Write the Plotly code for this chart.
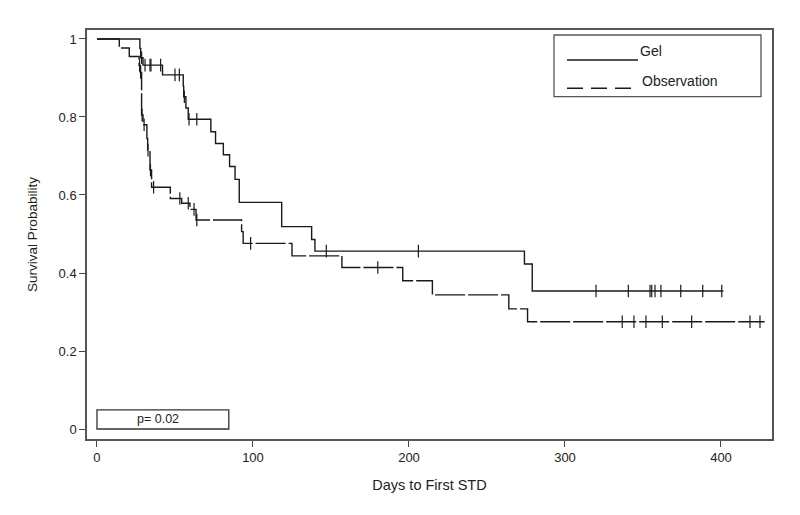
import plotly.graph_objects as go
import numpy as np

# ---- Data ----
gel_times = [0, 27.5, 28.0, 29.5, 42.0, 55.3, 55.6, 57.0, 58.5, 73.0, 76.0, 81.0, 85.0, 88.5, 91.2, 118.4, 137.6, 139.7, 274.0, 279.0, 401.5]
gel_surv = [1.0, 0.976, 0.952, 0.933, 0.908, 0.879, 0.852, 0.823, 0.794, 0.762, 0.732, 0.703, 0.673, 0.640, 0.581, 0.519, 0.486, 0.456, 0.423, 0.354, 0.354]
gel_censor = [28.6, 30.8, 34.0, 34.6, 40.8, 50.0, 52.8, 56.0, 59.0, 64.0, 147.0, 206.0,
              319.9, 340.6, 354.5, 355.6, 357.7, 361.5, 374.2, 388.3, 400.5]

obs_times = [0, 14.3, 20.7, 27.0, 27.8, 28.6, 29.5, 32.0, 32.5, 34.0, 35.0, 47.0, 54.3, 59.6, 63.5, 92.7, 93.7, 125.0, 157.0, 196.0, 215.0, 264.0, 276.0, 428.0]
obs_surv = [1.0, 0.977, 0.955, 0.932, 0.914, 0.805, 0.780, 0.745, 0.715, 0.664, 0.620, 0.591, 0.579, 0.563, 0.536, 0.506, 0.476, 0.444, 0.414, 0.380, 0.344, 0.308, 0.275, 0.275]
obs_censor = [27.3, 28.0, 28.9, 30.2, 32.7, 34.3, 36.3, 53.1, 58.5, 62.2, 64.0, 98.5, 180.0,
              336.7, 344.2, 351.9, 362.4, 381.2, 418.6, 425.0]

x_ticks = [0, 100, 200, 300, 400]
y_ticks = [0, 0.2, 0.4, 0.6, 0.8, 1.0]
y_tick_labels = ["0", "0.2", "0.4", "0.6", "0.8", "1"]
group_names = ["Gel", "Observation"]
p_text = "p= 0.02"


def step_value(times, surv, t):
    idx = np.searchsorted(np.array(times), t, side="right") - 1
    return surv[max(idx, 0)]


fig = go.Figure()
LINE = "#1a1a1a"

fig.add_trace(go.Scatter(x=gel_times, y=gel_surv, mode="lines", line=dict(shape="hv", color=LINE, width=1.4),
                         name=group_names[0], showlegend=False, hoverinfo="skip"))
fig.add_trace(go.Scatter(x=obs_times, y=obs_surv, mode="lines",
                         line=dict(shape="hv", color=LINE, width=1.4, dash="30px,3px"),
                         name=group_names[1], showlegend=False, hoverinfo="skip"))
fig.add_trace(go.Scatter(x=gel_censor, y=[step_value(gel_times, gel_surv, t) for t in gel_censor],
                         mode="markers", marker=dict(symbol="line-ns", size=9, line=dict(color=LINE, width=1.2)),
                         showlegend=False, hoverinfo="skip"))
fig.add_trace(go.Scatter(x=obs_censor, y=[step_value(obs_times, obs_surv, t) for t in obs_censor],
                         mode="markers", marker=dict(symbol="line-ns", size=9, line=dict(color=LINE, width=1.2)),
                         showlegend=False, hoverinfo="skip"))

# page body has an 8px margin; target plot area on screen: x 87..772, y 30..439
OFF = 8
FW, FH = 800 - OFF, 515 - OFF
L, R, T, B = 87 - OFF, 772 - OFF, 30 - OFF, 439 - OFF
W, H = R - L, B - T
def px(x):
    return (x - OFF - L) / W
def py(y):
    return (B - (y - OFF)) / H

shapes = []
# legend box
shapes.append(dict(type="rect", xref="paper", yref="paper", x0=px(554), x1=px(761), y0=py(96.7), y1=py(35),
                   line=dict(color="#555555", width=1.3)))
shapes.append(dict(type="line", xref="paper", yref="paper", x0=px(567), x1=px(638), y0=py(60), y1=py(60),
                   line=dict(color=LINE, width=1.4)))
shapes.append(dict(type="line", xref="paper", yref="paper", x0=px(567), x1=px(631), y0=py(88.3), y1=py(88.3),
                   line=dict(color=LINE, width=1.4, dash="16px,8px")))
# p-value box
shapes.append(dict(type="rect", xref="x", yref="y", x0=0, x1=84.5, y0=0, y1=0.049,
                   line=dict(color="#333333", width=1.3)))

annotations = [
    dict(xref="paper", yref="paper", x=px(638), y=py(51), text=group_names[0], showarrow=False,
         xanchor="left", yanchor="middle", font=dict(size=14, color="#222")),
    dict(xref="paper", yref="paper", x=px(640), y=py(81), text=group_names[1], showarrow=False,
         xanchor="left", yanchor="middle", font=dict(size=14, color="#222")),
    dict(xref="x", yref="y", x=39, y=0.0245, text=p_text, showarrow=False,
         xanchor="center", yanchor="middle", font=dict(size=12.5, color="#222")),
]

fig.update_layout(
    width=FW, height=FH,
    margin=dict(l=L, r=FW - R, t=T, b=FH - B, autoexpand=False),
    plot_bgcolor="white", paper_bgcolor="white",
    font=dict(family="Liberation Sans, Arial, sans-serif", size=13, color="#222"),
    shapes=shapes, annotations=annotations,
    xaxis=dict(range=[-6.4, 432.7], tickvals=x_ticks, ticks="outside", ticklen=6, tickcolor="#444",
               showline=True, mirror=True, linecolor="#555555", linewidth=1.5, showgrid=False, zeroline=False,
               automargin=False,
               title=dict(text="Days to First STD", font=dict(size=14.5), standoff=16)),
    yaxis=dict(range=[-0.0256, 1.023], tickvals=y_ticks, ticktext=y_tick_labels, ticks="outside", ticklen=6,
               tickcolor="#444", showline=True, mirror=True, linecolor="#555555", linewidth=1.5,
               showgrid=False, zeroline=False, automargin=False,
               title=dict(text="Survival Probability", font=dict(size=13.5), standoff=18)),
)

fig.write_html("out.html")
